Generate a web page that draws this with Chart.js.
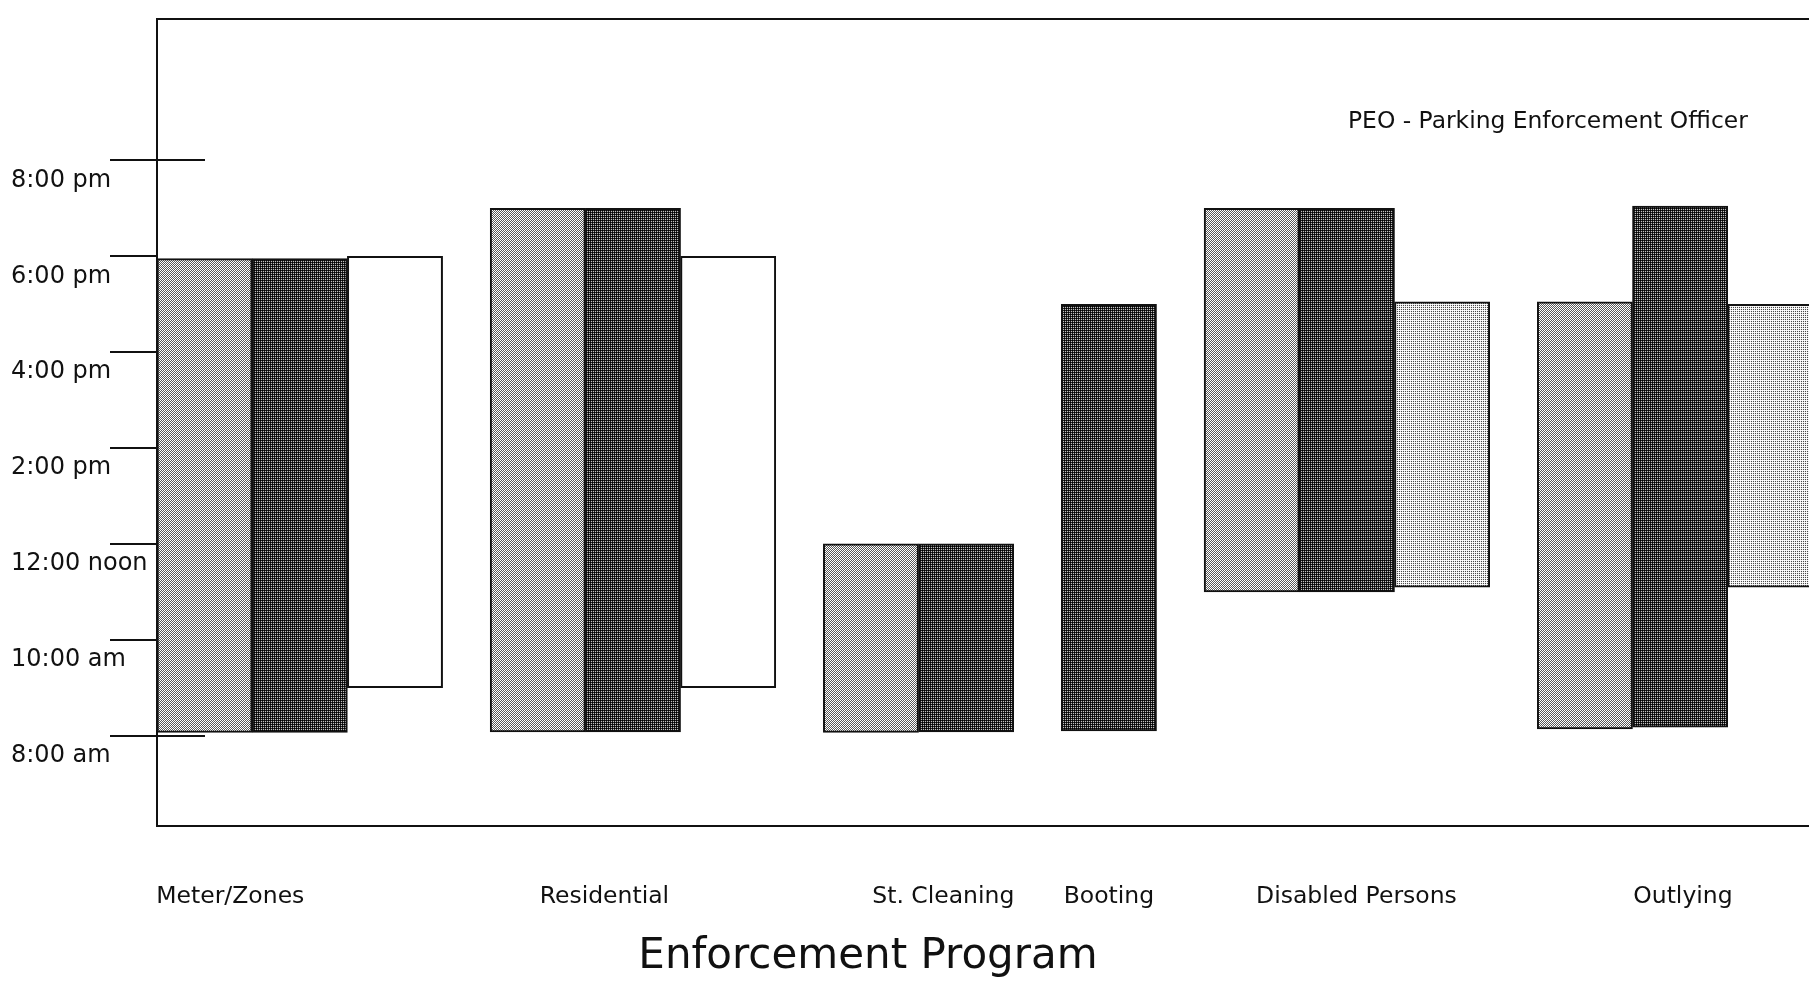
<!DOCTYPE html>
<html>
<head>
<meta charset="utf-8">
<script src="https://cdn.jsdelivr.net/npm/chart.js@4.4.1/dist/chart.umd.min.js"></script>
<style>
  html, body { margin: 0; padding: 0; background: #fff; overflow: hidden; }
  #wrap { width: 1900px; height: 981px; }
</style>
</head>
<body>
<div id="wrap"><canvas id="chart"></canvas></div>
<script>
// enforcement programs along the x axis
const programs = ['Meter/Zones', 'Residential', 'St. Cleaning', 'Booting', 'Disabled Persons', 'Outlying'];

// shift start / end in hours of the day (8 = 8:00 am, 20 = 8:00 pm), null = no bar
const lightStart = [8.07, 8.08, 8.07, null, 11.0, 8.14];
const lightEnd   = [17.95, 19.0, 12.0, null, 19.0, 17.05];
const darkStart  = [8.07, 8.08, 8.08, 8.1, 11.0, 8.18];
const darkEnd    = [17.95, 19.0, 12.0, 17.0, 19.0, 19.05];
const whiteStart = [9.0, 9.0, null, null, null, null];
const whiteEnd   = [18.0, 18.0, null, null, null, null];
const paleStart  = [null, null, null, null, 11.1, 11.1];
const paleEnd    = [null, null, null, null, 17.05, 17.0];

// y axis
const tickHours  = [8, 10, 12, 14, 16, 18, 20];
const tickLabels = ['8:00 am', '10:00 am', '12:00 noon', '2:00 pm', '4:00 pm', '6:00 pm', '8:00 pm'];

const note = 'PEO - Parking Enforcement Officer';
const axisTitle = 'Enforcement Program';

// layout
const FONT = 'DejaVu Sans';
const GAP = 0.5;                                   // space between programs, in bar widths
const labelShift = [-0.73, -0.3, 0.26, 0, 0.1, 0.03]; // label offset from group centre

// 2x2 halftone tile, like the dotted fills of the scan
function halftone(cells) {
  const c = document.createElement('canvas');
  c.width = 2; c.height = 2;
  const g = c.getContext('2d');
  cells.forEach((col, i) => {
    g.fillStyle = col;
    g.fillRect(i % 2, Math.floor(i / 2), 1, 1);
  });
  return g.createPattern(c, 'repeat');
}

const series = [
  { name: 'light', start: lightStart, end: lightEnd, fill: halftone(['#ffffff', '#575757', '#575757', '#ffffff']) },
  { name: 'dark',  start: darkStart,  end: darkEnd,  fill: halftone(['#000000', '#222222', '#222222', '#c0c0c0']) },
  { name: 'white', start: whiteStart, end: whiteEnd, fill: '#ffffff' },
  { name: 'pale',  start: paleStart,  end: paleEnd,  fill: halftone(['#ffffff', '#eeeeee', '#eeeeee', '#4a4a4a']) }
];

// bars of a program sit side by side, programs are split by a gap
const points = series.map(() => []);
const groupCenter = [];
let pos = 0;
programs.forEach((p, i) => {
  const first = pos;
  series.forEach((s, k) => {
    if (s.start[i] == null) return;
    points[k].push({ x: pos, y: [s.start[i], s.end[i]] });
    pos += 1;
  });
  groupCenter.push((first + pos - 1) / 2);
  pos += GAP;
});

const frame = {
  id: 'frame',
  beforeDatasetsDraw(chart) {
    const { ctx, chartArea: a } = chart;
    const y = chart.scales.y;
    ctx.save();
    ctx.strokeStyle = '#111';
    ctx.lineWidth = 2;
    ctx.strokeRect(a.left, a.top, a.right - a.left, a.bottom - a.top);
    // first and last tick cross into the plot
    [tickHours[0], tickHours[tickHours.length - 1]].forEach(h => {
      const py = Math.round(y.getPixelForValue(h));
      ctx.beginPath();
      ctx.moveTo(a.left, py);
      ctx.lineTo(a.left + 48, py);
      ctx.stroke();
    });
    ctx.restore();
  },
  afterDraw(chart) {
    const { ctx, chartArea: a } = chart;
    ctx.save();
    ctx.fillStyle = '#111';
    ctx.textBaseline = 'alphabetic';
    ctx.font = '23.4px "' + FONT + '"';
    ctx.textAlign = 'left';
    ctx.fillText(note, a.left + 1191, a.top + 109);
    ctx.font = '42px "' + FONT + '"';
    ctx.textAlign = 'center';
    ctx.fillText(axisTitle, a.left + 711, a.bottom + 142);
    ctx.restore();
  }
};

new Chart(document.getElementById('chart'), {
  type: 'bar',
  data: {
    datasets: series.map((s, k) => ({
      label: s.name,
      data: points[k],
      backgroundColor: s.fill
    }))
  },
  options: {
    responsive: true,
    maintainAspectRatio: false,
    animation: false,
    layout: { padding: { left: 11, top: 19, right: 20, bottom: 0 } },
    plugins: {
      legend: { display: false },
      tooltip: { enabled: false }
    },
    datasets: {
      bar: {
        grouped: false,
        categoryPercentage: 1,
        barPercentage: 1,
        borderWidth: 2,
        borderColor: '#111',
        borderSkipped: false
      }
    },
    scales: {
      x: {
        type: 'linear',
        offset: false,
        min: -0.5,
        max: 17.6,
        grid: { display: false, offset: false },
        border: { display: false },
        afterBuildTicks: s => { s.ticks = groupCenter.map((c, i) => ({ value: c + labelShift[i] })); },
        afterFit: s => { s.height = 155; },
        ticks: {
          autoSkip: false,
          maxRotation: 0,
          padding: 49,
          color: '#111',
          font: { family: FONT, size: 23.5 },
          callback: (v, i) => programs[i]
        }
      },
      y: {
        min: 6.116,
        max: 22.95,
        grid: { drawOnChartArea: false, drawTicks: true, tickLength: 47, color: '#111', lineWidth: 2 },
        border: { display: false },
        afterBuildTicks: s => { s.ticks = tickHours.map(v => ({ value: v })); },
        afterFit: s => { s.width = 146; },
        ticks: {
          autoSkip: false,
          crossAlign: 'far',
          labelOffset: 20,
          color: '#111',
          font: { family: FONT, size: 24 },
          callback: (v, i) => tickLabels[i]
        }
      }
    }
  },
  plugins: [frame]
});
</script>
</body>
</html>
